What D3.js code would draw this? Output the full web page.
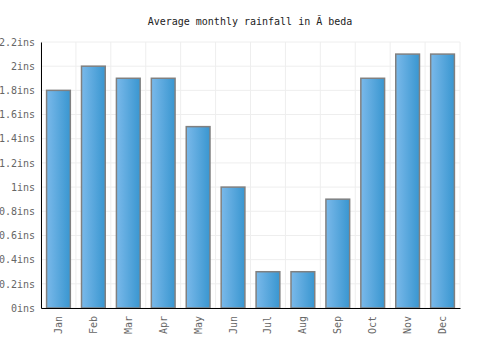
<!DOCTYPE html>
<html>
<head>
<meta charset="utf-8">
<script src="https://cdn.jsdelivr.net/npm/d3@7"></script>
<style>
  body { margin: 0; background: #fff; }
  text { font-family: "DejaVu Sans Mono", monospace; }
</style>
</head>
<body>
<svg id="drawing_region"></svg>
<script>
const months = ['Jan','Feb','Mar','Apr','May','Jun','Jul','Aug','Sep','Oct','Nov','Dec'];
const rainfall = [1.8, 2.0, 1.9, 1.9, 1.5, 1.0, 0.3, 0.3, 0.9, 1.9, 2.1, 2.1];
const yticks = [0, 0.2, 0.4, 0.6, 0.8, 1, 1.2, 1.4, 1.6, 1.8, 2, 2.2];
const title = 'Average monthly rainfall in Ă beda';

const width = 500, height = 350;
const margin = {top: 42, right: 40, bottom: 42, left: 41};
const inner_width = width - margin.left - margin.right;
const inner_height = height - margin.top - margin.bottom;

const svg = d3.select('#drawing_region')
    .attr('width', width)
    .attr('height', height);

const grad = svg.append('defs').append('linearGradient')
    .attr('id', 'bar_grad')
    .attr('x1', '0%').attr('x2', '100%')
    .attr('y1', '0%').attr('y2', '0%');
grad.append('stop').attr('offset', '0%').attr('stop-color', '#7ab9ea');
grad.append('stop').attr('offset', '100%').attr('stop-color', '#3996d0');

svg.append('text')
    .attr('x', width / 2)
    .attr('y', 25)
    .attr('text-anchor', 'middle')
    .attr('font-size', 10)
    .attr('fill', '#222')
    .text(title);

const chart = svg.append('g')
    .attr('transform', `translate(${margin.left}, ${margin.top})`);

const xscale = d3.scaleBand()
    .domain(months)
    .range([0, inner_width])
    .paddingInner(0.32)
    .paddingOuter(0.16);

const yscale = d3.scaleLinear()
    .domain([0, 2.2])
    .range([inner_height, 0]);

// grid
const step = inner_width / months.length;
chart.append('g')
    .selectAll('line')
    .data(d3.range(months.length + 1))
    .join('line')
    .attr('x1', d => d * step).attr('x2', d => d * step)
    .attr('y1', 0).attr('y2', inner_height)
    .attr('stroke', '#eeeeee');

chart.append('g')
    .selectAll('line')
    .data(yticks)
    .join('line')
    .attr('x1', 0).attr('x2', inner_width)
    .attr('y1', d => yscale(d)).attr('y2', d => yscale(d))
    .attr('stroke', '#eeeeee');

// bars
chart.append('g')
    .selectAll('rect')
    .data(rainfall)
    .join('rect')
    .attr('x', (d, i) => xscale(months[i]))
    .attr('y', d => yscale(d))
    .attr('width', xscale.bandwidth())
    .attr('height', d => inner_height - yscale(d))
    .attr('fill', 'url(#bar_grad)')
    .attr('stroke', '#808080')
    .attr('stroke-width', 1.5);

// axes
const yaxis = d3.axisLeft(yscale)
    .tickValues(yticks)
    .tickSize(0)
    .tickPadding(6)
    .tickFormat(d => d3.format('~g')(d) + 'ins');

const yaxis_group = chart.append('g').call(yaxis);
yaxis_group.select('.domain').attr('stroke', '#000');
yaxis_group.selectAll('text')
    .attr('font-family', '"DejaVu Sans Mono", monospace')
    .attr('font-size', 10)
    .attr('fill', '#666');

const xaxis = d3.axisBottom(xscale)
    .tickSize(0)
    .tickPadding(0);

const xaxis_group = chart.append('g')
    .attr('transform', `translate(0, ${inner_height})`)
    .call(xaxis);
xaxis_group.select('.domain').attr('stroke', '#000');
xaxis_group.selectAll('text')
    .attr('font-family', '"DejaVu Sans Mono", monospace')
    .attr('font-size', 10)
    .attr('fill', '#666')
    .attr('text-anchor', 'end')
    .attr('dy', '0.35em')
    .attr('transform', 'translate(0, 8) rotate(-90)');
</script>
</body>
</html>
